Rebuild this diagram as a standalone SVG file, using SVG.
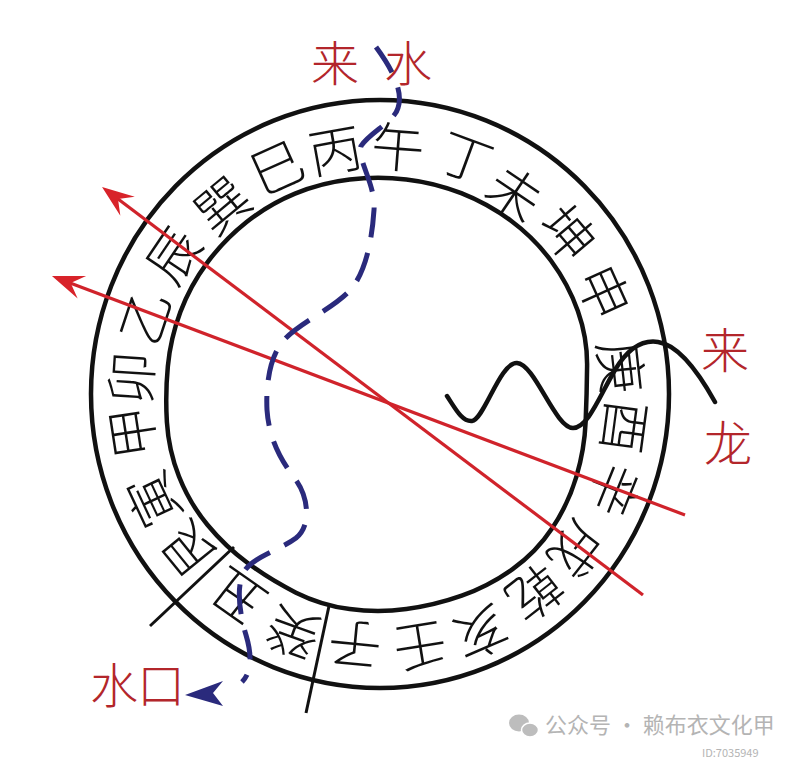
<svg xmlns="http://www.w3.org/2000/svg" width="797" height="759" viewBox="0 0 797 759">
<style>
.ring{fill:none;stroke:#111;stroke-width:4.5}
.div{stroke:#111;stroke-width:3;fill:none}
.m{font-family:"Noto Sans CJK SC","Noto Sans CJK TC",sans-serif;font-size:53px;font-weight:300;fill:#111;text-anchor:middle}
.lbl{font-family:"Noto Sans CJK SC",sans-serif;font-size:48px;font-weight:300;fill:#b3262b;text-anchor:middle}
.red{stroke:#d0232b;stroke-width:3.2;fill:none}
.water{fill:none;stroke:#2a2a7c;stroke-width:5;stroke-dasharray:30 16;stroke-linecap:butt}
.dragon{fill:none;stroke:#111;stroke-width:4.5;stroke-linecap:round}
.wm{font-family:"Noto Sans CJK SC",sans-serif;fill:#b4b4b4}
</style>
<defs>
<marker id="redHead" viewBox="-34 -14 36 28" refX="-18" refY="0" markerWidth="36" markerHeight="28" markerUnits="userSpaceOnUse" orient="auto">
<path d="M0,0 L-32,-12 L-20,0 L-32,12 Z" fill="#d8232a"/>
</marker>
</defs>
<rect width="797" height="759" fill="#fff"/>
<g id="compass-ring">
<ellipse class="ring" cx="380" cy="394" rx="289" ry="294"/>
<path class="ring" d="M349.7,179.45 Q378,176.2 406.3,179.45 Q434.6,182.7 461.25,193.2 Q487.9,203.7 511,220.8 Q534.1,237.9 551.2,261 Q568.3,284.1 577.85,311 Q587.4,337.9 587.1,365.95 Q586.8,394 585.65,421.65 Q584.5,449.3 576.4,476.6 Q568.3,503.9 552.3,528.1 Q536.3,552.3 512.6,569.2 Q488.9,586.1 461.75,595.7 Q434.6,605.3 406.3,609.05 Q378,612.8 349.7,609.05 Q321.4,605.3 296,592.65 Q270.6,580 248,563.3 Q225.4,546.6 207.4,524.75 Q189.4,502.9 179,476.5 Q168.6,450.1 166.9,422.05 Q165.2,394 167.85,366.2 Q170.5,338.4 180.35,312 Q190.2,285.6 207.1,262.8 Q224,240 246.3,222.25 Q268.6,204.5 295,193.6 Q321.4,182.7 349.7,179.45 Z"/>
<line class="div" x1="234" y1="547" x2="150" y2="626"/>
<line class="div" x1="329" y1="606" x2="306" y2="713"/>
</g>
<g id="mountains">
<text class="m" dy="0.38em" transform="translate(398,147) rotate(4.4)">午</text>
<text class="m" dy="0.38em" transform="translate(466,157) rotate(20.2)">丁</text>
<text class="m" dy="0.38em" transform="translate(515,193) rotate(34.1)">未</text>
<text class="m" dy="0.38em" transform="translate(568,233) rotate(49.6)">坤</text>
<text class="m" dy="0.38em" transform="translate(604,292) rotate(65.6)">申</text>
<text class="m" dy="0.38em" transform="translate(621,367) rotate(83.6)">庚</text>
<text class="m" dy="0.38em" transform="translate(625,427) rotate(97.6)">酉</text>
<text class="m" dy="0.38em" transform="translate(615,490) rotate(112.1)">辛</text>
<text class="m" dy="0.38em" transform="translate(577,550) rotate(128.2)">戌</text>
<text class="m" dy="0.38em" transform="translate(535,593) rotate(141.9)">乾</text>
<text class="m" dy="0.38em" transform="translate(481,633) rotate(156.7)">亥</text>
<text class="m" dy="0.38em" transform="translate(420,646) rotate(170.8)">壬</text>
<text class="m" dy="0.38em" transform="translate(355,645) rotate(185.5)">子</text>
<text class="m" dy="0.38em" transform="translate(293,633) rotate(199.8)">癸</text>
<text class="m" dy="0.38em" transform="translate(237,597) rotate(215)">丑</text>
<text class="m" dy="0.38em" transform="translate(188,550) rotate(230.8)">艮</text>
<text class="m" dy="0.38em" transform="translate(153,500) rotate(244.9)">寅</text>
<text class="m" dy="0.38em" transform="translate(132,432) rotate(261.3)">甲</text>
<text class="m" dy="0.38em" transform="translate(131,378) rotate(273.7)">卯</text>
<text class="m" dy="0.38em" transform="translate(145,317) rotate(288.2)">乙</text>
<text class="m" dy="0.38em" transform="translate(173,255) rotate(304)">辰</text>
<text class="m" dy="0.38em" transform="translate(222,205) rotate(320.3)">巽</text>
<text class="m" dy="0.38em" transform="translate(277,167) rotate(335.8)">巳</text>
<text class="m" dy="0.38em" transform="translate(335,150) rotate(349.8)">丙</text>
</g>
<g id="connectors">
<line class="red" x1="643" y1="595" x2="116.4" y2="197.8" marker-end="url(#redHead)"/>
<line class="red" x1="685" y1="515" x2="68.8" y2="282.4" marker-end="url(#redHead)"/>
<path class="water" d="M376,47 C390,66 404,90 398,108 C394,122 370,132 361,146 C357,160 376,185 374,210 C372,240 366,270 352,288 C335,308 300,322 284,340 C268,358 266,390 267,410 C269,440 282,462 296,480 C308,497 312,525 296,538 C280,550 255,556 245,570 C235,585 240,615 246,635 C252,655 252,672 242,682"/>
<path d="M185,695 L223,681 L213,693 L223,706 Z" fill="#2a2a7c"/>
<path class="dragon" d="M447,396 C455,408 462,422 472,421 C484,420 500,362 517,363 C535,364 555,428 573,428 C588,428 600,395 615,370 C630,345 645,340 658,342 C680,345 700,375 715,402"/>
</g>
<g id="labels">
<text class="lbl" x="335" y="63" dy="0.38em">来</text>
<text class="lbl" x="408" y="63" dy="0.38em">水</text>
<text class="lbl" x="725" y="350" dy="0.38em">来</text>
<text class="lbl" x="728" y="443" dy="0.38em">龙</text>
<text class="lbl" x="114" y="685" dy="0.38em">水</text>
<text class="lbl" x="161" y="685" dy="0.38em">口</text>
</g>
<g id="watermark">
<ellipse cx="519" cy="723" rx="10" ry="8.5" fill="#bdbdbd"/>
<ellipse cx="530" cy="730" rx="8.5" ry="7" fill="#bdbdbd" stroke="#fff" stroke-width="1.5"/>
<text class="wm" x="545" y="733" font-size="22">公众号 · 赖布衣文化甲</text>
<text class="wm" x="702" y="757" font-size="11" fill="#c4c4c4">ID:7035949</text>
</g>
</svg>
